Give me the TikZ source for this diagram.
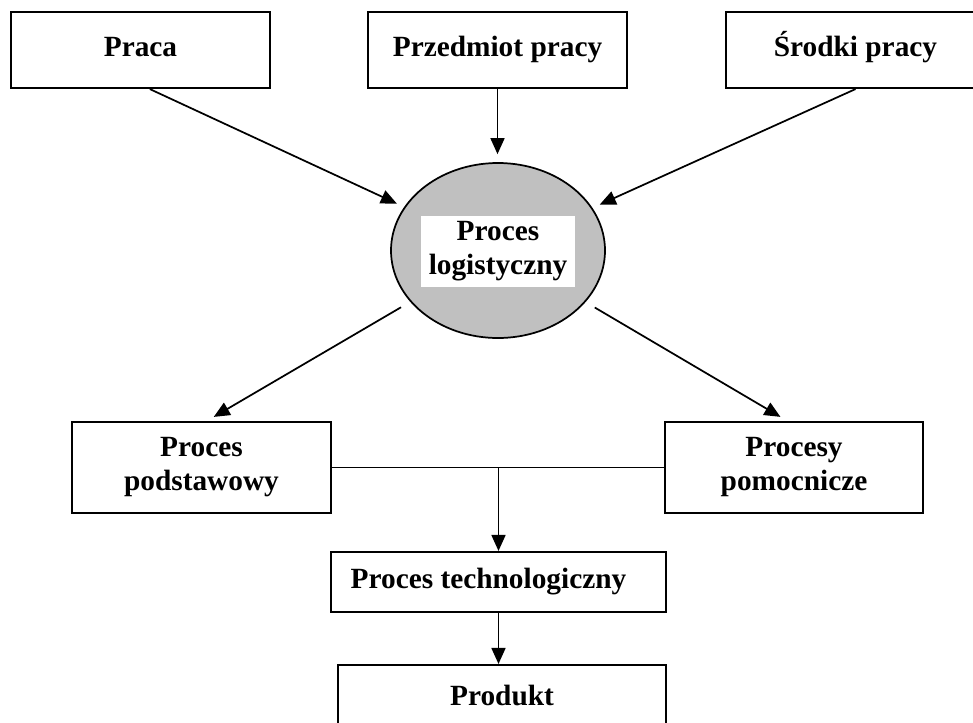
\documentclass[tikz,border=0pt]{standalone}
\usepackage{fontspec}
\setmainfont{Liberation Serif}
\usetikzlibrary{arrows.meta,shapes.geometric}
\definecolor{ellgray}{RGB}{192,192,192}
\begin{document}
\begin{tikzpicture}[x=0.75pt, y=-0.75pt,
  box/.style={draw, line width=1.6pt, inner sep=0pt, align=center,
    font=\fontsize{22}{25.5}\selectfont\bfseries},
  oneline/.style={text height=15pt, text depth=5pt},
  arr/.style={line width=1.3pt, -{Triangle[length=12pt,width=10.5pt]}}]
\path[use as bounding box, clip] (0,0) rectangle (973,722);
\node[box, oneline, minimum width=194.25pt, minimum height=57pt] (praca) at (140.5,50){Praca};
\node[box, oneline, minimum width=194.25pt, minimum height=57pt] (przedm) at (497.5,50){Przedmiot pracy};
\node[box, oneline, minimum width=194.25pt, minimum height=57pt] (srodki) at (855.5,50){Środki pracy};
\node[ellipse, draw, fill=ellgray, line width=1.3pt, minimum width=160.5pt, minimum height=131.25pt] (logist) at (498,250.5){};
\node[box, draw=none, fill=white, minimum width=115.5pt, minimum height=53.25pt] (logtxt) at (498,251.5){Proces\\logistyczny};
\node[box, minimum width=194.25pt, minimum height=68.25pt] (podst) at (201.5,467.5){Proces\\podstawowy};
\node[box, minimum width=193.5pt, minimum height=68.25pt] (pomoc) at (794,467.5){Procesy\\pomocnicze};
\node[box, oneline, minimum width=251.25pt, minimum height=45pt] (techn) at (498.5,582){Proces technologiczny\hspace{15pt}};
\node[box, oneline, minimum width=246pt, minimum height=51pt] (prod) at (502,699){Produkt};
\coordinate (join) at (podst.east -| techn.north);
\draw[arr, shorten >=6pt]([xshift=7pt]praca.south) -- (logist);
\draw[arr, shorten >=6pt](przedm.south) -- (przedm.south |- logist.north);
\draw[arr, shorten >=6pt](srodki.south) -- (logist);
\draw[arr, shorten <=8pt, shorten >=6pt](logist) -- ([xshift=4pt]podst.north);
\draw[arr, shorten <=8pt, shorten >=6pt](logist) -- ([xshift=-5pt]pomoc.north);
\draw[line width=1.3pt](podst.east) -- (pomoc.west);
\draw[arr](join) -- (techn.north);
\draw[arr](techn.south) -- (techn.south |- prod.north);

\end{tikzpicture}
\end{document}
